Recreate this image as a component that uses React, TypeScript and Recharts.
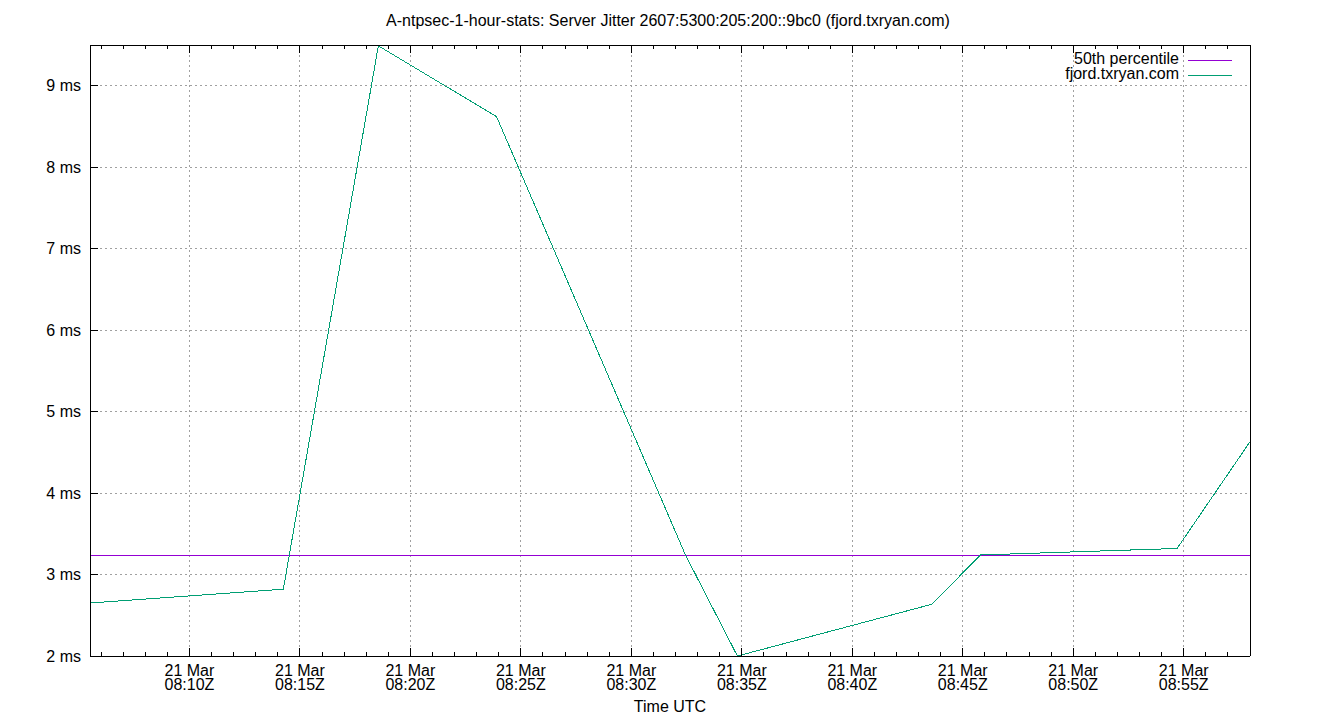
import React from 'react';
import { LineChart, Line, XAxis, YAxis, CartesianGrid, ReferenceLine } from 'recharts';

const TITLE = 'A-ntpsec-1-hour-stats: Server Jitter 2607:5300:205:200::9bc0 (fjord.txryan.com)';
const X_LABEL = 'Time UTC';
const DATE_LABEL = '21 Mar';

// sample times in minutes after 08:00Z, jitter in ms
const sampleMinutes = [5.5, 14.25, 18.55, 23.9, 32.45, 34.8, 43.6, 45.8, 54.7, 58];
const jitterMs = [2.65, 2.82, 9.49, 8.62, 3.24, 2.0, 2.635, 3.24, 3.32, 4.63];
const percentile50 = 3.237;

const majorTicks = [10, 15, 20, 25, 30, 35, 40, 45, 50, 55];
const minorTicks = Array.from({ length: 52 }, (_, i) => i + 6);
const yTicks = [2, 3, 4, 5, 6, 7, 8, 9];

const seriesNames = ['50th percentile', 'fjord.txryan.com'];
const seriesColors = ['#9400d3', '#009e73'];

const W = 1340;
const H = 720;
const PLOT_H = 611;
const FONT = '"Liberation Sans", Arial, sans-serif';
const FS = 16;

const data = sampleMinutes.map((t, i) => ({ t, v: jitterMs[i] }));

const pad = (n: number) => (n < 10 ? `0${n}` : `${n}`);

const MajorTick = (props: any) => {
  const { x, y, payload } = props;
  return (
    <text x={x} textAnchor="middle" fontSize={FS} fontFamily={FONT} fill="#000">
      <tspan x={x} y={y + 19.7}>{DATE_LABEL}</tspan>
      <tspan x={x} y={y + 34.2}>{`08:${pad(payload.value)}Z`}</tspan>
    </text>
  );
};

// inward tick marks on the top border and bottom border
const MinorTick = (props: any) => {
  const { x, y, payload } = props;
  const len = payload.value % 5 === 0 ? 8 : 4;
  return (
    <g>
      <line x1={x} y1={y} x2={x} y2={y + len} stroke="#000" strokeWidth={1} />
      <line x1={x} y1={y + PLOT_H} x2={x} y2={y + PLOT_H - len} stroke="#000" strokeWidth={1} />
    </g>
  );
};

const YTick = (props: any) => {
  const { x, y, payload } = props;
  return (
    <g>
      <line x1={x} y1={y} x2={x + 8} y2={y} stroke="#000" strokeWidth={1} />
      <text x={x - 9} y={y} dy="0.36em" textAnchor="end" fontSize={FS} fontFamily={FONT} fill="#000">
        {`${payload.value} ms`}
      </text>
    </g>
  );
};

export default function App() {
  return (
    <div
      style={{
        position: 'absolute',
        left: 0,
        top: 0,
        width: W,
        height: H,
        background: '#fff',
        shapeRendering: 'crispEdges',
      }}
    >
      <LineChart width={W} height={H} data={data} margin={{ top: 44, right: 0, bottom: 0, left: 0 }}>
        <XAxis
          xAxisId="major"
          dataKey="t"
          type="number"
          domain={[5.5, 58]}
          allowDataOverflow
          ticks={majorTicks}
          interval={0}
          height={64}
          tickSize={0}
          tickMargin={0}
          tick={<MajorTick />}
          axisLine={{ stroke: '#000' }}
          label={{ value: X_LABEL, position: 'insideBottom', offset: 8, fontSize: FS, fontFamily: FONT, fill: '#000' }}
        />
        <XAxis
          xAxisId="minor"
          orientation="top"
          dataKey="t"
          type="number"
          domain={[5.5, 58]}
          allowDataOverflow
          ticks={minorTicks}
          interval={0}
          height={1}
          tickSize={0}
          tickMargin={0}
          tick={<MinorTick />}
          axisLine={{ stroke: '#000' }}
        />
        <YAxis
          yAxisId="left"
          type="number"
          domain={[2, 9.5]}
          allowDataOverflow
          ticks={yTicks}
          interval={0}
          width={90}
          tickSize={0}
          tickMargin={0}
          tick={<YTick />}
          axisLine={{ stroke: '#000' }}
        />
        <YAxis
          yAxisId="right"
          orientation="right"
          type="number"
          domain={[2, 9.5]}
          width={90}
          tick={false}
          tickLine={false}
          axisLine={{ stroke: '#000' }}
        />
        <CartesianGrid xAxisId="major" yAxisId="left" stroke="#a0a0a0" strokeDasharray="2 3" />
        <ReferenceLine xAxisId="major" yAxisId="left" y={percentile50} stroke={seriesColors[0]} strokeWidth={1} />
        <Line
          xAxisId="major"
          yAxisId="left"
          dataKey="v"
          name={seriesNames[1]}
          stroke={seriesColors[1]}
          strokeWidth={1}
          dot={false}
          activeDot={false}
          isAnimationActive={false}
        />
      </LineChart>
      <svg
        width={W}
        height={H}
        style={{ position: 'absolute', left: 0, top: 0, pointerEvents: 'none' }}
      >
        <text x={668} y={26} textAnchor="middle" fontSize={FS} fontFamily={FONT} fill="#000">
          {TITLE}
        </text>
        {seriesNames.map((name, i) => (
          <g key={name}>
            <text x={1179} y={63.5 + i * 15.5} textAnchor="end" fontSize={FS} fontFamily={FONT} fill="#000">
              {name}
            </text>
            <line x1={1188} x2={1232} y1={60 + i * 15} y2={60 + i * 15} stroke={seriesColors[i]} strokeWidth={1} />
          </g>
        ))}
      </svg>
    </div>
  );
}
